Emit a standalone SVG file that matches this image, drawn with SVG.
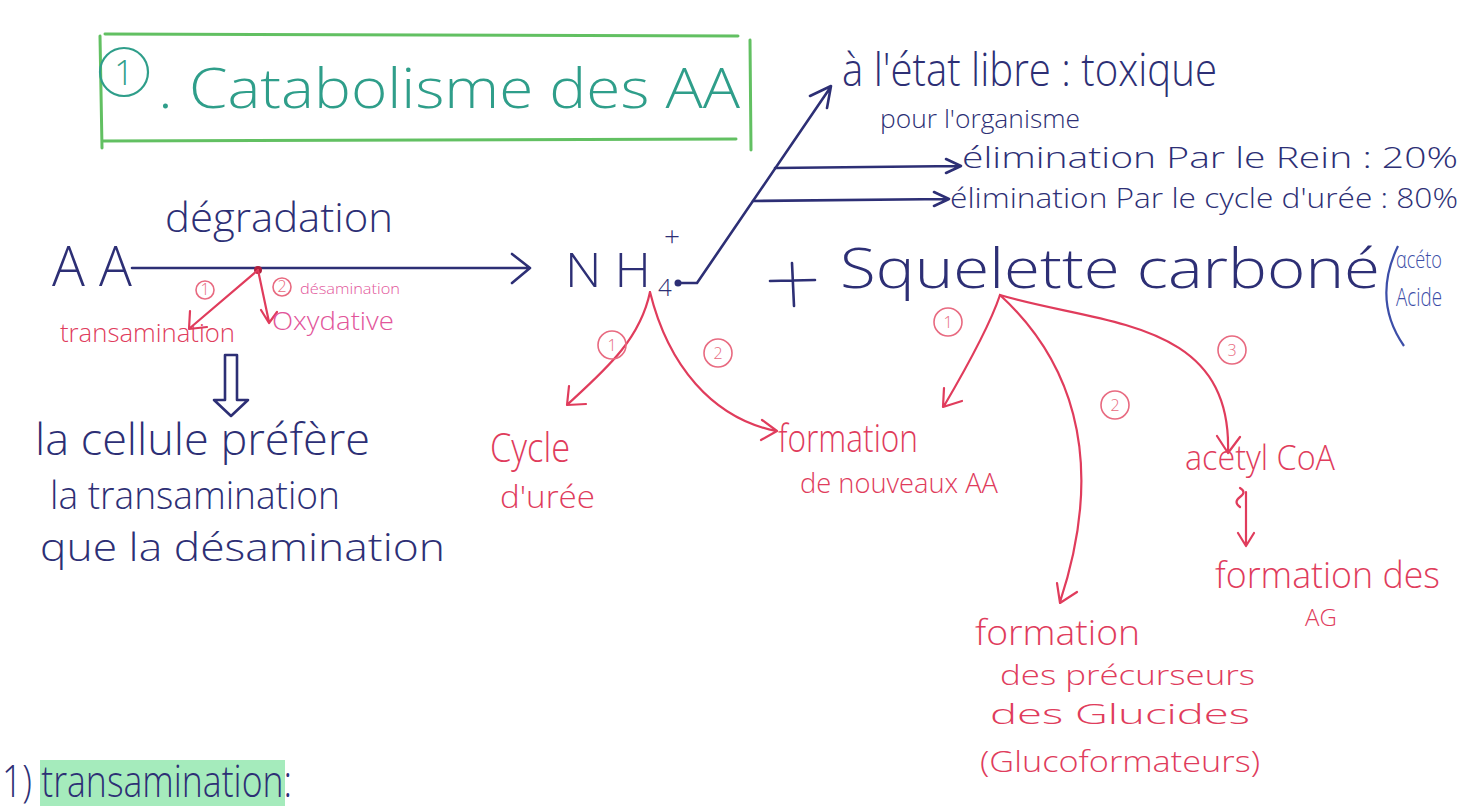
<svg xmlns="http://www.w3.org/2000/svg" width="1462" height="809" viewBox="0 0 1462 809">
  <style>
    text { font-family: "Open Sans", "Liberation Sans", "DejaVu Sans", sans-serif; font-weight: 300; }
    .ink { fill: #2d2f75; }
    .red { fill: #e03c5c; }
    .pink { fill: #e2559a; }
    .teal { fill: #2f9e8a; }
    .blue2 { fill: #3c4ea8; }
    .ln { fill: none; stroke: #2d2f75; stroke-width: 2.6; stroke-linecap: round; stroke-linejoin: round; }
    .rl { fill: none; stroke: #e03c5c; stroke-width: 2.2; stroke-linecap: round; stroke-linejoin: round; }
    .rc { fill: none; stroke: #e86a80; stroke-width: 1.6; }
    .rn { fill: #e86a80; font-size: 16px; text-anchor: middle; }
    .box { fill: none; stroke: #62c062; stroke-width: 3; stroke-linecap: round; }
  </style>

  <rect width="1462" height="809" fill="#ffffff"/>

  <!-- Title box -->
  <g id="title">
    <path class="box" d="M105,34 L738,36 M102,141 L736,139 M100,36 L102,148 M750,40 L751,150"/>
    <circle cx="124" cy="72" r="24" fill="none" stroke="#2f9e8a" stroke-width="2.2"/>
    <text class="teal" x="124" y="85" font-size="34" text-anchor="middle">1</text>
    <text class="teal" x="158" y="108" font-size="56" textLength="582" lengthAdjust="spacingAndGlyphs">. Catabolisme des AA</text>
  </g>

  <!-- Connectors -->
  <g id="connectors">
    <!-- degradation arrow -->
    <path class="ln" d="M132,268 L528,268 M512,254 L530,268 L512,283"/>
    <!-- NH4+ fate: diagonal arrow with two branches -->
    <circle cx="678" cy="283" r="3.5" fill="#2d2f75"/>
    <path class="ln" d="M678,283 L697,283 L830,88 M810,96 L831,86 L827,108"/>
    <path class="ln" d="M775,168 L960,166 M946,159 L961,166 L946,173"/>
    <path class="ln" d="M753,201 L948,199 M934,192 L949,199 L934,206"/>
    <!-- plus sign -->
    <path class="ln" d="M770,281 L815,280 M792,263 L794,306"/>
    <!-- carbon skeleton bracket -->
    <path d="M1398,246 Q1372,300 1404,346" fill="none" stroke="#3c4ea8" stroke-width="2.2"/>

    <!-- transamination / oxidative deamination split -->
    <circle cx="258" cy="270" r="4" fill="#b0203c"/>
    <path class="rl" d="M258,270 L190,328 M190,311 L189,329 L207,327"/>
    <path class="rl" d="M258,270 L269,322 M261,310 L269,323 L277,312"/>
    <!-- hollow down arrow -->
    <path class="ln" d="M225,355 L225,400 L214,400 L231,416 L248,400 L237,400 L237,355 Z" stroke-width="2"/>

    <!-- NH4+ branches -->
    <path class="rl" d="M650,292 C640,340 605,370 568,404 M569,386 L567,405 L586,404"/>
    <path class="rl" d="M650,292 C668,365 712,418 776,431 M762,420 L777,431 L761,440"/>

    <!-- carbon skeleton branches -->
    <path class="rl" d="M1000,295 C990,325 968,365 944,406 M944,388 L943,407 L962,401"/>
    <path class="rl" d="M1000,295 C1065,355 1110,450 1060,602 M1057,583 L1060,603 L1077,592"/>
    <path class="rl" d="M1000,295 C1100,325 1232,318 1228,452 M1217,436 L1228,453 L1240,437"/>
    <!-- acetyl CoA to fatty acids -->
    <path class="rl" d="M1240,488 q7,4 0,9 q-7,5 0,10 M1246,492 L1246,545 M1238,533 L1246,546 L1254,533"/>

    <!-- circled step numbers -->
    <circle class="rc" cx="205" cy="290" r="9"/>
    <text class="rn" x="205" y="295" font-size="12">1</text>
    <circle class="rc" cx="282" cy="287" r="9"/>
    <text class="rn" x="282" y="292" font-size="12">2</text>
    <circle class="rc" cx="612" cy="345" r="14"/>
    <text class="rn" x="612" y="351">1</text>
    <circle class="rc" cx="718" cy="353" r="14"/>
    <text class="rn" x="718" y="359">2</text>
    <circle class="rc" cx="948" cy="322" r="14"/>
    <text class="rn" x="948" y="328">1</text>
    <circle class="rc" cx="1115" cy="405" r="14"/>
    <text class="rn" x="1115" y="411">2</text>
    <circle class="rc" cx="1232" cy="350" r="14"/>
    <text class="rn" x="1232" y="356">3</text>
  </g>

  <!-- Amino acids -->
  <g id="aa">
    <text class="ink" x="52" y="286" font-size="56" textLength="80" lengthAdjust="spacingAndGlyphs">A A</text>
    <text class="ink" x="165" y="232" font-size="40" textLength="228" lengthAdjust="spacingAndGlyphs">dégradation</text>
  </g>

  <g id="split">
    <text class="red" x="60" y="342" font-size="26" textLength="175" lengthAdjust="spacingAndGlyphs">transamination</text>
    <text class="pink" x="300" y="294" font-size="15" textLength="100" lengthAdjust="spacingAndGlyphs">désamination</text>
    <text class="pink" x="272" y="330" font-size="26" textLength="122" lengthAdjust="spacingAndGlyphs">Oxydative</text>
  </g>

  <g id="preference">
    <text class="ink" x="35" y="455" font-size="44" textLength="335" lengthAdjust="spacingAndGlyphs">la cellule préfère</text>
    <text class="ink" x="50" y="509" font-size="38" textLength="290" lengthAdjust="spacingAndGlyphs">la transamination</text>
    <text class="ink" x="40" y="561" font-size="38" textLength="405" lengthAdjust="spacingAndGlyphs">que la désamination</text>
  </g>

  <!-- Ammonium -->
  <g id="nh4">
    <text class="ink" x="565" y="287" font-size="48" textLength="86" lengthAdjust="spacingAndGlyphs">N H</text>
    <text class="ink" x="658" y="296" font-size="24">4</text>
    <text class="ink" x="664" y="246" font-size="28">+</text>
  </g>

  <g id="fates">
    <text class="ink" x="842" y="86" font-size="46" textLength="375" lengthAdjust="spacingAndGlyphs">à l'état libre : toxique</text>
    <text class="ink" x="880" y="128" font-size="26" textLength="200" lengthAdjust="spacingAndGlyphs">pour l'organisme</text>
    <text class="ink" x="962" y="168" font-size="30" textLength="496" lengthAdjust="spacingAndGlyphs">élimination Par le Rein : 20%</text>
    <text class="ink" x="950" y="208" font-size="28" textLength="508" lengthAdjust="spacingAndGlyphs">élimination Par le cycle d'urée : 80%</text>
  </g>

  <g id="cycle">
    <text class="red" x="490" y="462" font-size="40" textLength="80" lengthAdjust="spacingAndGlyphs">Cycle</text>
    <text class="red" x="500" y="508" font-size="32" textLength="95" lengthAdjust="spacingAndGlyphs">d'urée</text>
  </g>

  <g id="new-aa">
    <text class="red" x="778" y="452" font-size="38" textLength="140" lengthAdjust="spacingAndGlyphs">formation</text>
    <text class="red" x="800" y="493" font-size="28" textLength="198" lengthAdjust="spacingAndGlyphs">de nouveaux AA</text>
  </g>

  <!-- Carbon skeleton -->
  <g id="skeleton">
    <text class="ink" x="840" y="288" font-size="56" textLength="540" lengthAdjust="spacingAndGlyphs">Squelette carboné</text>
    <text class="blue2" x="1396" y="268" font-size="24" textLength="46" lengthAdjust="spacingAndGlyphs">αcéto</text>
    <text class="blue2" x="1396" y="306" font-size="26" textLength="46" lengthAdjust="spacingAndGlyphs">Acide</text>
  </g>

  <g id="acetyl">
    <text class="red" x="1185" y="470" font-size="34" textLength="150" lengthAdjust="spacingAndGlyphs">acetyl CoA</text>
  </g>

  <g id="fatty-acids">
    <text class="red" x="1215" y="588" font-size="36" textLength="225" lengthAdjust="spacingAndGlyphs">formation des</text>
    <text class="red" x="1305" y="626" font-size="24">AG</text>
  </g>

  <g id="glucides">
    <text class="red" x="975" y="645" font-size="34" textLength="165" lengthAdjust="spacingAndGlyphs">formation</text>
    <text class="red" x="1000" y="685" font-size="28" textLength="255" lengthAdjust="spacingAndGlyphs">des précurseurs</text>
    <text class="red" x="990" y="724" font-size="28" textLength="260" lengthAdjust="spacingAndGlyphs">des Glucides</text>
    <text class="red" x="980" y="772" font-size="30" textLength="280" lengthAdjust="spacingAndGlyphs">(Glucoformateurs)</text>
  </g>

  <!-- Section heading -->
  <g id="heading-transamination">
    <rect x="40" y="760" width="245" height="46" fill="#7fe3a0" opacity="0.7"/>
    <text class="ink" x="2" y="797" font-size="44" textLength="290" lengthAdjust="spacingAndGlyphs">1) transamination:</text>
  </g>
</svg>
